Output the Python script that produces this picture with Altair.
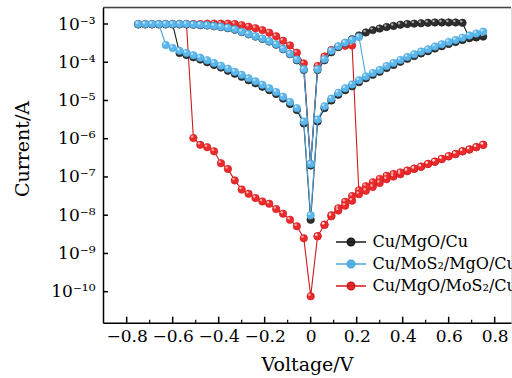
import altair as alt
import pandas as pd

FONT = "DejaVu Serif"
SERIES = ["Cu/MgO/Cu", "Cu/MoS\u2082/MgO/Cu", "Cu/MgO/MoS\u2082/Cu"]
LINE_COLORS = ["#1a1a1a", "#4aa6dc", "#cc1a1f"]
BALL_COLORS = ["#2e2e2e", "#5cb8ec", "#ec2c2c"]

X_TICKS = [-0.8, -0.6, -0.4, -0.2, 0.0, 0.2, 0.4, 0.6, 0.8]
X_MINOR = [-0.7, -0.5, -0.3, -0.1, 0.1, 0.3, 0.5, 0.7]
Y_TICKS = [1e-10, 1e-9, 1e-8, 1e-7, 1e-6, 1e-5, 1e-4, 1e-3]

V_NEG = [-0.75, -0.72, -0.69, -0.66, -0.63, -0.60, -0.57, -0.54, -0.51, -0.48, -0.45, -0.42, -0.39,
         -0.36, -0.33, -0.30, -0.27, -0.24, -0.21, -0.18, -0.15, -0.12, -0.09, -0.06, -0.03]
V_POS = [0.03, 0.06, 0.09, 0.12, 0.15, 0.18, 0.21, 0.24, 0.27, 0.30, 0.33, 0.36, 0.39,
         0.42, 0.45, 0.48, 0.51, 0.54, 0.57, 0.60, 0.63, 0.66, 0.69, 0.72, 0.75]

# log10(current / A)
# --- Cu/MgO/Cu (black)
BK_TOP_LEFT = [-3.01, -3.01, -3.01, -3.01, -3.01, -3.01, -3.01, -3.01, -3.02, -3.03, -3.04, -3.06, -3.08,
               -3.11, -3.15, -3.21, -3.27, -3.33, -3.39, -3.46, -3.54, -3.66, -3.79, -3.95, -4.2]
BK_SET_V = -0.60
BK_LOW_LEFT_V = [-0.57, -0.54, -0.51, -0.48, -0.45, -0.42, -0.39, -0.36, -0.33, -0.30, -0.27, -0.24,
                 -0.21, -0.18, -0.15, -0.12, -0.09, -0.06, -0.03]
BK_LOW_LEFT = [-3.76, -3.81, -3.87, -3.93, -4.0, -4.07, -4.14, -4.22, -4.30, -4.38, -4.47, -4.55,
               -4.64, -4.73, -4.83, -4.95, -5.09, -5.25, -5.6]
BK_ZERO = [-6.70, -8.12]
BK_TOP_RIGHT_V = [0.03, 0.06, 0.09, 0.12, 0.15, 0.18, 0.21, 0.24, 0.27, 0.30, 0.33, 0.36, 0.39, 0.42,
                  0.45, 0.48, 0.51, 0.54, 0.57, 0.60, 0.63, 0.66]
BK_TOP_RIGHT = [-4.2, -3.95, -3.74, -3.6, -3.5, -3.4, -3.3, -3.22, -3.16, -3.12, -3.08, -3.05, -3.02, -3.0,
                -2.99, -2.98, -2.97, -2.96, -2.96, -2.96, -2.96, -2.97]
BK_LOW_RIGHT = [-5.55, -5.2, -5.0, -4.85, -4.73, -4.63, -4.52, -4.42, -4.33, -4.25, -4.15, -4.07, -3.99,
                -3.91, -3.84, -3.77, -3.71, -3.64, -3.58, -3.52, -3.47, -3.42, -3.37, -3.35, -3.33]

# --- Cu/MoS2/MgO/Cu (blue)
BL_TOP_LEFT = [-3.0, -3.0, -3.0, -3.0, -3.0, -3.0, -3.0, -3.0, -3.01, -3.02, -3.03, -3.05, -3.07,
               -3.10, -3.14, -3.20, -3.26, -3.32, -3.38, -3.45, -3.53, -3.65, -3.78, -3.93, -4.18]
BL_SET_V = -0.66
BL_LOW_LEFT_V = [-0.63, -0.60, -0.57, -0.54, -0.51, -0.48, -0.45, -0.42, -0.39, -0.36, -0.33, -0.30,
                 -0.27, -0.24, -0.21, -0.18, -0.15, -0.12, -0.09, -0.06, -0.03]
BL_LOW_LEFT = [-3.55, -3.63, -3.70, -3.76, -3.82, -3.88, -3.95, -4.02, -4.09, -4.17, -4.25, -4.33,
               -4.42, -4.50, -4.59, -4.68, -4.78, -4.90, -5.04, -5.20, -5.55]
BL_ZERO = [-6.66, -8.0]
BL_TOP_RIGHT_V = [0.03, 0.06, 0.09, 0.12, 0.15, 0.18, 0.21]
BL_TOP_RIGHT = [-4.18, -3.92, -3.70, -3.58, -3.49, -3.42, -3.34]
BL_LOW_RIGHT = [-5.5, -5.15, -4.95, -4.8, -4.68, -4.58, -4.47, -4.37, -4.28, -4.2, -4.1, -4.02, -3.94,
                -3.86, -3.79, -3.72, -3.66, -3.59, -3.53, -3.47, -3.42, -3.36, -3.3, -3.25, -3.2]

# --- Cu/MgO/MoS2/Cu (red)
RD_TOP_LEFT = [-3.0, -3.0, -3.0, -3.0, -3.0, -3.0, -3.0, -3.0, -3.0, -3.0, -2.99, -2.99, -2.99,
               -2.99, -3.0, -3.03, -3.07, -3.11, -3.16, -3.23, -3.32, -3.44, -3.56, -3.75, -4.03]
RD_SET_V = -0.54
RD_LOW_LEFT_V = [-0.51, -0.48, -0.45, -0.42, -0.39, -0.36, -0.33, -0.30, -0.27, -0.24, -0.21, -0.18,
                 -0.15, -0.12, -0.09, -0.06, -0.03]
RD_LOW_LEFT = [-5.98, -6.16, -6.22, -6.33, -6.64, -6.79, -7.09, -7.33, -7.44, -7.55, -7.64, -7.70,
               -7.84, -7.96, -8.12, -8.29, -8.6]
RD_ZERO = [-6.66, -10.12]
RD_TOP_RIGHT_V = [0.03, 0.06, 0.09, 0.12, 0.15, 0.18]
RD_TOP_RIGHT = [-4.1, -3.85, -3.68, -3.6, -3.57, -3.56]
RD_LOW_RIGHT = [-8.55, -8.25, -8.03, -7.88, -7.75, -7.62, -7.45, -7.36, -7.26, -7.16, -7.06, -6.99, -6.93,
                -6.85, -6.79, -6.73, -6.66, -6.6, -6.53, -6.46, -6.4, -6.33, -6.28, -6.22, -6.16]
RD_LOW_RIGHT_BACK = [-8.55, -8.25, -8.0, -7.82, -7.65, -7.5, -7.35, -7.24, -7.14, -7.05, -6.97, -6.92, -6.88,
                     -6.83, -6.78, -6.73, -6.66, -6.6, -6.53, -6.46, -6.4, -6.33, -6.28, -6.22, -6.16]


def build(name, top_left, set_v, low_left_v, low_left, zero, top_right_v, top_right, low_out, low_back):
    p1 = (list(zip(V_NEG, top_left)) + [(0.0, zero[0])] + list(zip(top_right_v, top_right))
          + [(v, l) for v, l in zip(V_POS, low_out) if v > top_right_v[-1] + 1e-9])
    set_log = top_left[V_NEG.index(set_v)]
    p2 = [(set_v, set_log)] + list(zip(low_left_v, low_left)) + [(0.0, zero[1])] + list(zip(V_POS, low_back))
    lines = []
    for pname, path in (("a", p1), ("b", p2)):
        for i, (v, l) in enumerate(path):
            lines.append({"series": name, "path": name + pname, "order": i, "V": v, "I": 10 ** l})
    pts = (list(zip(V_NEG, top_left)) + list(zip(low_left_v, low_left)) + [(0.0, zero[0]), (0.0, zero[1])]
           + list(zip(top_right_v, top_right)) + list(zip(V_POS, low_out)))
    if low_back is not low_out:
        pts += list(zip(V_POS, low_back))
    points = [{"series": name, "V": v, "I": 10 ** l} for v, l in pts]
    return pd.DataFrame(lines), pd.DataFrame(points)


data = {
    SERIES[0]: build(SERIES[0], BK_TOP_LEFT, BK_SET_V, BK_LOW_LEFT_V, BK_LOW_LEFT, BK_ZERO,
                     BK_TOP_RIGHT_V, BK_TOP_RIGHT, BK_LOW_RIGHT, BK_LOW_RIGHT),
    SERIES[1]: build(SERIES[1], BL_TOP_LEFT, BL_SET_V, BL_LOW_LEFT_V, BL_LOW_LEFT, BL_ZERO,
                     BL_TOP_RIGHT_V, BL_TOP_RIGHT, BL_LOW_RIGHT, BL_LOW_RIGHT),
    SERIES[2]: build(SERIES[2], RD_TOP_LEFT, RD_SET_V, RD_LOW_LEFT_V, RD_LOW_LEFT, RD_ZERO,
                     RD_TOP_RIGHT_V, RD_TOP_RIGHT, RD_LOW_RIGHT, RD_LOW_RIGHT_BACK),
}

W, H = 408, 315.2
xs = alt.Scale(domain=[-0.903, 0.871], nice=False, zero=False)
ys = alt.Scale(type="log", domain=[10 ** -10.811, 10 ** -2.5685], nice=False)

X_AXIS = alt.Axis(values=X_TICKS, labelExpr="datum.value == 0 ? '0' : format(datum.value, '.1f')",
                  ticks=False, grid=False, domainColor="black", domainWidth=1.5,
                  labelFont=FONT, labelFontSize=17, labelColor="black", labelPadding=6,
                  labelOverlap=False, labelFlush=False,
                  title="Voltage/V", titleFont=FONT, titleFontSize=19, titleFontWeight="normal",
                  titleColor="black", titlePadding=11)
Y_AXIS = alt.Axis(values=Y_TICKS,
                  labelExpr="'10\u207b' + ['\u2070','\u00b9','\u00b2','\u00b3','\u2074','\u2075','\u2076','\u2077','\u2078','\u2079','\u00b9\u2070'][round(-log(datum.value)/LN10)]",
                  ticks=False, grid=False, domainColor="black", domainWidth=1.5,
                  labelFont=FONT, labelFontSize=17, labelColor="black", labelPadding=8,
                  labelOverlap=False, labelFlush=False,
                  title="Current/A", titleFont=FONT, titleFontSize=19, titleFontWeight="normal",
                  titleColor="black", titleX=-71, titleY=141, titleBaseline="bottom")

LEG = alt.Legend(title=None, orient="none", legendX=239.5, legendY=226,
                 symbolType="M-2,0H2M-0.5,0A0.5,0.5,0,1,0,0.5,0A0.5,0.5,0,1,0,-0.5,0",
                 symbolSize=225, symbolStrokeWidth=1.5, labelFont=FONT, labelFontSize=16,
                 labelColor="black", labelOffset=13, rowPadding=5, padding=0)

stroke_scale = alt.Scale(domain=SERIES, range=LINE_COLORS)
fill_scale = alt.Scale(domain=SERIES, range=BALL_COLORS)

X = alt.X("V:Q", scale=xs, axis=X_AXIS)
Y = alt.Y("I:Q", scale=ys, axis=Y_AXIS)

layers = []
for name in [SERIES[2], SERIES[0], SERIES[1]]:
    ldf, pdf = data[name]
    layers.append(alt.Chart(ldf).mark_line(strokeWidth=1.1).encode(
        x=X, y=Y, stroke=alt.Stroke("series:N", scale=stroke_scale, legend=LEG),
        detail="path:N", order="order:Q"))
    layers.append(alt.Chart(pdf).mark_point(filled=True, size=56, strokeWidth=0.6, opacity=1).encode(
        x=X, y=Y, fill=alt.Fill("series:N", scale=fill_scale, legend=LEG),
        stroke=alt.Stroke("series:N", scale=stroke_scale, legend=LEG)))
    layers.append(alt.Chart(pdf).mark_point(filled=True, size=6, color="white", opacity=0.6,
                                            xOffset=-1.3, yOffset=-1.5).encode(x=X, y=Y))

major = alt.Chart(pd.DataFrame({"V": X_TICKS})).mark_rule(color="black", strokeWidth=1.5).encode(
    x=X, y=alt.value(H - 6), y2=alt.value(H))
minor = alt.Chart(pd.DataFrame({"V": X_MINOR})).mark_rule(color="black", strokeWidth=1.2).encode(
    x=X, y=alt.value(H - 3), y2=alt.value(H))
yt = alt.Chart(pd.DataFrame({"I": Y_TICKS})).mark_rule(color="black", strokeWidth=1.5).encode(
    y=Y, x=alt.value(0), x2=alt.value(5))
top = alt.Chart(pd.DataFrame({"k": [0]})).mark_rule(color="#444", strokeWidth=1.5).encode(
    x=alt.value(0), x2=alt.value(W), y=alt.value(0))

chart = alt.layer(*layers, major, minor, yt, top).properties(
    width=W, height=H,
    autosize=alt.AutoSizeParams(type="none"),
    padding={"left": 103, "top": 7.5, "right": 1, "bottom": 55.3},
).configure_view(stroke=None).configure(background="white")

chart.save("out.html", embed_options={"renderer": "svg", "actions": False})
